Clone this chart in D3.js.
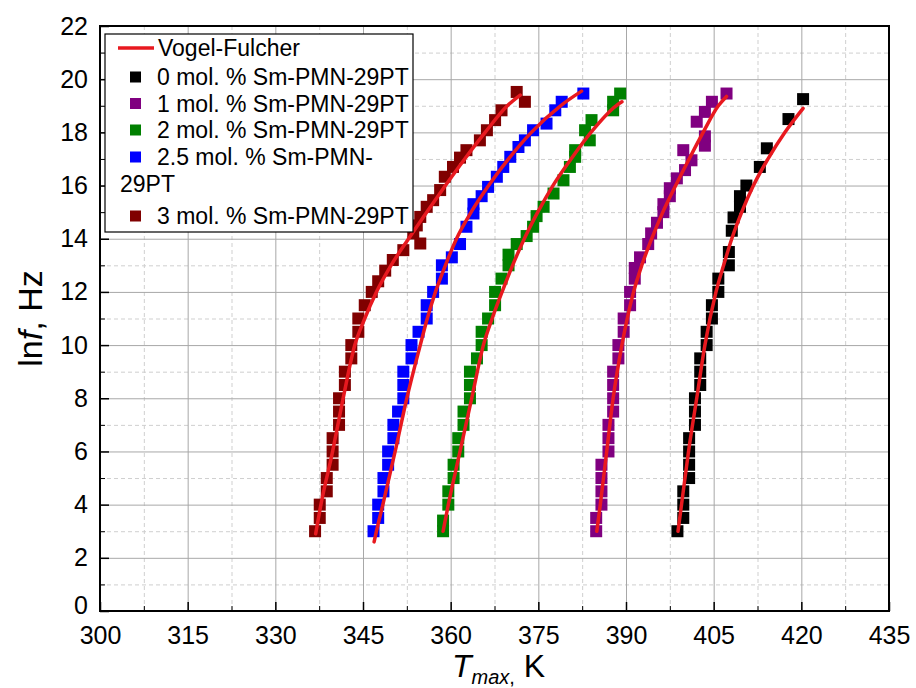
<!DOCTYPE html>
<html>
<head>
<meta charset="utf-8">
<script src="https://cdn.jsdelivr.net/npm/d3@7"></script>
<style>
  body { margin: 0; background: #fff; }
  svg { font-family: "Liberation Sans", Arial, sans-serif; }
</style>
</head>
<body>
<div id="my_dataviz"></div>
<script>
// axis ticks
var xTicks = [300, 315, 330, 345, 360, 375, 390, 405, 420, 435];
var xMinor = [307.5, 322.5, 337.5, 352.5, 367.5, 382.5, 397.5, 412.5, 427.5];
var yTicks = [0, 2, 4, 6, 8, 10, 12, 14, 16, 18, 20, 22];
var yMinor = [1, 3, 5, 7, 9, 11, 13, 15, 17, 19, 21];

// legend
var seriesNames = ["0 mol. % Sm-PMN-29PT", "1 mol. % Sm-PMN-29PT", "2 mol. % Sm-PMN-29PT",
  "2.5 mol. % Sm-PMN-", "3 mol. % Sm-PMN-29PT"];
var seriesColors = ["#000000", "#800080", "#008000", "#0000ff", "#800000"];
var fitColor = "#e8191f";

// measured points [Tmax, lnf]
var sm0 = [[398.8,3.0],[399.8,3.5],[399.8,4.0],[399.8,4.5],[400.8,5.0],[400.8,5.5],[400.8,6.0],
  [400.8,6.5],[401.8,7.0],[401.8,7.5],[401.8,8.0],[402.7,8.5],[402.7,9.0],[402.7,9.5],[403.8,10.0],
  [403.8,10.5],[404.7,11.0],[404.7,11.5],[405.8,12.0],[405.8,12.5],[407.6,13.0],[407.6,13.5],
  [408.1,14.3],[408.4,14.8],[409.5,15.2],[409.5,15.6],[410.6,16.0],[412.9,16.7],[414.1,17.4],
  [417.8,18.5],[420.3,19.25]];
var sm1 = [[384.9,3.0],[384.9,3.5],[385.8,4.0],[385.8,4.5],[385.8,5.0],[385.8,5.5],[387.0,6.0],
  [387.0,6.5],[387.0,7.0],[387.8,7.5],[387.8,8.0],[387.8,8.5],[387.8,9.0],[388.7,9.5],[388.7,10.0],
  [389.6,10.5],[389.6,11.0],[390.7,11.5],[390.7,12.0],[391.5,12.5],[391.5,12.9],[392.4,13.3],
  [393.8,13.8],[394.3,14.2],[395.3,14.6],[396.4,15.0],[396.4,15.3],[397.5,15.6],[397.5,15.9],
  [398.7,16.27],[400.1,16.58],[401.2,16.95],[399.8,17.33],[403.5,17.5],[403.5,17.85],[402.1,18.4],
  [403.5,18.77],[404.7,19.15],[407.2,19.46]];
var sm2 = [[358.7,3.0],[358.7,3.4],[359.6,4.0],[359.6,4.5],[360.5,5.0],[360.5,5.5],[361.3,6.0],
  [361.3,6.5],[362.2,7.0],[362.2,7.5],[363.3,8.0],[363.3,8.5],[363.3,9.0],[364.5,9.5],[365.3,10.0],
  [365.3,10.5],[366.4,11.0],[367.6,11.5],[367.6,12.0],[368.7,12.5],[369.9,13.0],[369.9,13.4],
  [371.3,13.8],[373.0,14.1],[374.1,14.45],[374.7,14.85],[375.9,15.2],[377.6,15.7],[379.3,16.2],
  [380.4,16.7],[381.3,17.08],[381.3,17.33],[383.8,17.7],[383.0,18.08],[384.1,18.46],[387.8,18.83],
  [387.8,19.15],[389.0,19.46]];
var sm25 = [[346.8,3.0],[347.6,3.5],[347.6,4.0],[348.5,4.5],[348.5,5.0],[349.3,5.5],[349.3,6.0],
  [350.2,6.5],[350.2,7.0],[351.0,7.5],[351.9,8.0],[351.9,8.5],[351.9,9.0],[353.3,9.5],[353.3,10.0],
  [354.5,10.5],[355.9,11.0],[355.9,11.5],[357.0,12.0],[358.5,12.5],[358.5,13.0],[360.2,13.3],
  [361.6,13.8],[362.7,14.45],[363.9,14.95],[363.9,15.3],[365.3,15.6],[366.4,15.95],[367.9,16.33],
  [369.0,16.7],[370.2,17.08],[371.6,17.45],[372.7,17.7],[374.1,18.08],[376.4,18.33],[377.9,18.83],
  [379.0,19.15],[382.7,19.46]];
var sm3 = [[336.8,3.0],[337.6,3.5],[337.6,4.0],[338.8,4.5],[338.8,5.0],[339.8,5.5],[339.8,6.0],
  [339.8,6.5],[340.9,7.0],[340.9,7.5],[340.9,8.0],[341.9,8.5],[341.9,9.0],[343.0,9.5],[343.0,10.0],
  [344.2,10.5],[344.2,11.0],[345.3,11.5],[346.5,12.0],[347.6,12.4],[348.8,12.8],[350.1,13.2],
  [351.9,13.57],[354.8,13.82],[353.6,14.2],[354.2,14.5],[354.8,14.82],[355.9,15.2],[357.0,15.45],
  [358.2,15.83],[359.0,16.33],[360.4,16.7],[361.6,17.05],[362.7,17.33],[365.0,17.7],[366.2,18.08],
  [367.6,18.46],[368.7,18.83],[372.7,19.15],[371.3,19.52]];

// Vogel-Fulcher fit curves [Tmax, lnf]
var vf0 = [[398.9,3.0],[399.5,4],[400.7,6],[402.1,8],[403.5,10],[405.4,12],[406.7,13],[408.1,14],
  [409.8,15],[411.8,16],[414.3,17],[417.2,18],[420.3,18.9]];
var vf1 = [[385.0,3.0],[385.6,4],[386.7,6],[387.8,8],[389.3,10],[391.3,12],[392.7,13],[394.4,14],
  [396.3,15],[398.5,16],[400.8,17],[403.2,18],[405.8,19],[407.2,19.35]];
var vf2 = [[358.7,3.0],[359.6,4],[361.6,6],[363.6,8],[365.6,10],[367.1,11],[368.8,12],[370.6,13],
  [372.6,14],[374.9,15],[377.5,16],[380.6,17],[384.0,18],[388.3,19],[389.3,19.15]];
var vf25 = [[346.9,2.6],[347.3,3.0],[348.4,4],[350.5,6],[352.5,8],[354.8,10],[356.0,11],[357.4,12],
  [359.1,13],[361.0,14],[363.5,15],[366.5,16],[369.9,17],[373.8,18],[378.8,19],[382.4,19.55]];
var vf3 = [[336.9,2.9],[337.8,4],[339.8,6],[341.6,8],[343.6,10],[345.3,11],[347.3,12],[349.8,13],
  [352.8,14],[355.9,15],[359.1,16],[362.4,17],[365.9,18],[369.7,19],[371.9,19.4]];

var points = [sm0, sm1, sm2, sm25, sm3];
var fits = [vf0, vf1, vf2, vf25, vf3];

var margin = { top: 26, right: 27, bottom: 77, left: 100 },
  width = 916 - margin.left - margin.right,
  height = 688 - margin.top - margin.bottom;

var svgRoot = d3
  .select("#my_dataviz")
  .append("svg")
  .attr("width", 916)
  .attr("height", 688);

var svg = svgRoot
  .append("g")
  .attr("transform", "translate(" + margin.left + "," + margin.top + ")");

var x = d3.scaleLinear().domain([300, 435]).range([0, width]);
var y = d3.scaleLinear().domain([0, 22]).range([height, 0]);

// grid: minor dashed first, then major solid
svg.append("g")
  .attr("transform", "translate(0," + height + ")")
  .call(d3.axisBottom(x).tickValues(xMinor).tickSize(-height).tickFormat(""))
  .call(function (g) { g.select(".domain").remove(); })
  .selectAll("line").attr("stroke", "#cfcfcf").attr("stroke-dasharray", "4,3");
svg.append("g")
  .call(d3.axisLeft(y).tickValues(yMinor).tickSize(-width).tickFormat(""))
  .call(function (g) { g.select(".domain").remove(); })
  .selectAll("line").attr("stroke", "#cfcfcf").attr("stroke-dasharray", "4,3");
svg.append("g")
  .attr("transform", "translate(0," + height + ")")
  .call(d3.axisBottom(x).tickValues(xTicks).tickSize(-height).tickFormat(""))
  .call(function (g) { g.select(".domain").remove(); })
  .selectAll("line").attr("stroke", "#a8a8a8");
svg.append("g")
  .call(d3.axisLeft(y).tickValues(yTicks).tickSize(-width).tickFormat(""))
  .call(function (g) { g.select(".domain").remove(); })
  .selectAll("line").attr("stroke", "#a8a8a8");

// data squares
points.forEach(function (pts, i) {
  svg.append("g")
    .selectAll("rect")
    .data(pts)
    .enter()
    .append("rect")
    .attr("x", function (d) { return x(d[0]) - 6; })
    .attr("y", function (d) { return y(d[1]) - 6; })
    .attr("width", 12)
    .attr("height", 12)
    .style("fill", seriesColors[i]);
});

// fit lines on top
var line = d3.line()
  .x(function (d) { return x(d[0]); })
  .y(function (d) { return y(d[1]); })
  .curve(d3.curveMonotoneX);

fits.forEach(function (f) {
  svg.append("path")
    .datum(f)
    .attr("d", line)
    .attr("fill", "none")
    .attr("stroke", fitColor)
    .attr("stroke-width", 3.5)
    .attr("stroke-linecap", "round");
});

// axes with inward ticks
var xAxis = svg.append("g")
  .attr("transform", "translate(0," + height + ")")
  .call(d3.axisBottom(x).tickValues(xTicks).tickSize(-9).tickPadding(15).tickFormat(d3.format("d")));
svg.append("g")
  .attr("transform", "translate(0," + height + ")")
  .call(d3.axisBottom(x).tickValues(xMinor).tickSize(-5).tickFormat(""))
  .call(function (g) { g.select(".domain").remove(); });
var yAxis = svg.append("g")
  .call(d3.axisLeft(y).tickValues(yTicks).tickSize(-9).tickPadding(12).tickFormat(d3.format("d")));
svg.append("g")
  .call(d3.axisLeft(y).tickValues(yMinor).tickSize(-5).tickFormat(""))
  .call(function (g) { g.select(".domain").remove(); });

[xAxis, yAxis].forEach(function (a) {
  a.selectAll("text").style("font-size", "25px").style("font-family", "Liberation Sans, Arial, sans-serif").attr("fill", "#000");
  a.selectAll("line").attr("stroke", "#000").attr("stroke-width", 1.5);
  a.select(".domain").remove();
});
// the "0" label sits a little high, as in the original, clear of "300"
yAxis.selectAll(".tick text").filter(function (d) { return d === 0; }).attr("dy", "0.1em");

// frame
svg.append("rect")
  .attr("width", width)
  .attr("height", height)
  .attr("fill", "none")
  .attr("stroke", "#000")
  .attr("stroke-width", 2);

// axis titles
var yTitle = svgRoot.append("text")
  .attr("transform", "translate(42," + (margin.top + height / 2) + ") rotate(-90)")
  .attr("text-anchor", "middle")
  .style("font-size", "34px");
yTitle.append("tspan").text("ln");
yTitle.append("tspan").style("font-style", "italic").text("f");
yTitle.append("tspan").text(", Hz");

var xTitle = svgRoot.append("text")
  .attr("x", margin.left + width / 2 + 4)
  .attr("y", 677)
  .attr("text-anchor", "middle")
  .style("font-size", "32px");
xTitle.append("tspan").style("font-style", "italic").text("T");
xTitle.append("tspan").style("font-style", "italic").style("font-size", "20px").attr("dy", 7).text("max");
xTitle.append("tspan").style("font-size", "20px").text(",");
xTitle.append("tspan").attr("dy", -7).text(" K");

// legend
var legend = svgRoot.append("g").attr("transform", "translate(105,34)");
legend.append("rect")
  .attr("width", 308)
  .attr("height", 198)
  .attr("fill", "#fff")
  .attr("stroke", "#000")
  .attr("stroke-width", 1.2);

legend.append("line")
  .attr("x1", 13).attr("x2", 49)
  .attr("y1", 14).attr("y2", 14)
  .attr("stroke", fitColor)
  .attr("stroke-width", 3.5);
legend.append("text")
  .attr("x", 53).attr("y", 14).attr("dy", "0.35em")
  .style("font-size", "23px")
  .text("Vogel-Fulcher");

var rowY = [43, 69.5, 96, 123, 182];
seriesNames.forEach(function (name, i) {
  legend.append("rect")
    .attr("x", 25).attr("y", rowY[i] - 5.5)
    .attr("width", 11).attr("height", 11)
    .style("fill", seriesColors[i]);
  legend.append("text")
    .attr("x", 52).attr("y", rowY[i]).attr("dy", "0.35em")
    .style("font-size", "23px")
    .text(name);
});
legend.append("text")
  .attr("x", 15).attr("y", 150).attr("dy", "0.35em")
  .style("font-size", "23px")
  .text("29PT");
</script>
</body>
</html>
